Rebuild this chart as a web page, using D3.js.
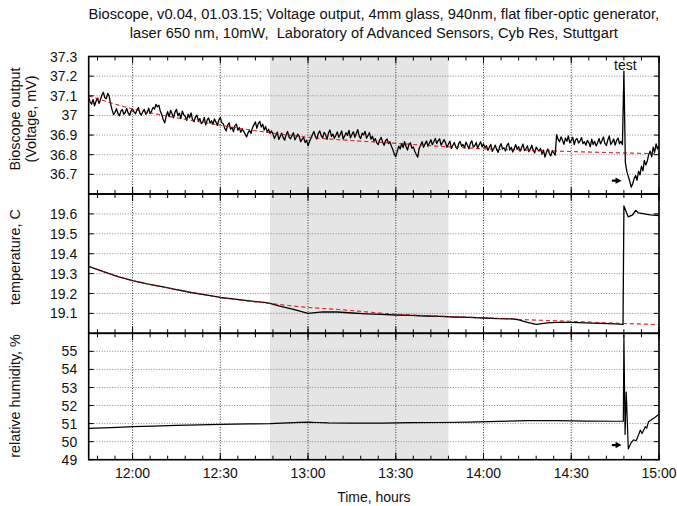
<!DOCTYPE html>
<html>
<head>
<meta charset="utf-8">
<script src="https://cdn.jsdelivr.net/npm/d3@7"></script>
<style>
  html, body { margin: 0; padding: 0; background: #fff; }
  svg { display: block; font-family: "Liberation Sans", Arial, Helvetica, sans-serif; }
  text { white-space: pre; }
</style>
</head>
<body>
<svg id="chart" width="677" height="506"></svg>
<script>
// ---- recording: 01.03.2015, minutes counted from 11:45 ----
const titleLines = [
  "Bioscope, v0.04, 01.03.15; Voltage output, 4mm glass, 940nm, flat fiber-optic generator,",
  "laser 650 nm, 10mW,  Laboratory of Advanced Sensors, Cyb Res, Stuttgart"
];
const timeStart = [2015, 2, 1, 11, 45];   // Y, M(0-based), D, h, m
const timeSpanMin = 195;                    // 11:45 .. 15:00
const shadedMin = [62, 123];                // 12:47 .. 13:48

// bioscope output, one sample every half minute from 11:45 (mV)
const voltStepMin = 0.5;
const voltage = [
  37.092,37.068,37.058,37.081,37.049,37.072,37.088,37.061,
  37.079,37.104,37.118,37.090,37.085,37.112,37.098,37.058,
  37.028,37.004,37.016,37.034,37.010,36.998,37.022,37.030,37.006,37.015,37.036,37.012,37.001,37.024,
  37.033,37.018,37.008,37.028,37.040,37.011,37.002,37.019,37.031,37.006,37.015,37.037,37.009,37.022,
  37.041,37.033,37.056,37.044,37.052,37.021,
  37.004,36.978,36.962,36.997,
  37.019,36.993,37.026,37.008,36.988,37.016,37.031,36.999,37.012,36.984,37.022,37.003,
  36.996,36.975,37.006,36.988,37.013,36.979,36.968,36.992,37.001,36.972,
  36.984,36.958,36.965,36.990,36.952,36.976,36.987,36.961,36.973,36.955,36.982,36.966,36.949,36.977,36.989,36.963,
  36.958,36.934,36.921,36.950,36.962,36.930,36.939,36.917,36.948,36.956,36.925,36.938,36.914,36.930,
  36.919,36.905,36.891,36.912,36.924,36.908,
  36.938,36.952,36.967,36.934,36.958,36.970,36.941,36.955,36.926,36.944,
  36.915,36.930,36.908,36.921,
  36.906,36.882,36.899,36.915,36.878,36.893,36.910,36.887,36.874,36.902,36.918,36.890,36.881,36.897,36.912,36.876,36.889,36.905,
  36.892,36.866,36.879,36.888,36.862,36.874,36.846,36.868,
  36.884,36.903,36.918,36.893,36.880,36.909,36.921,36.897,36.886,36.914,36.902,36.878,36.911,36.926,36.893,36.905,
  36.884,36.899,36.916,36.888,36.903,36.921,36.880,36.895,36.912,36.898,36.924,36.886,36.903,36.917,36.889,36.908,
  36.928,36.895,36.882,36.910,36.901,36.919,36.884,36.898,36.913,36.879,36.894,36.870,
  36.882,36.861,36.852,36.876,36.888,36.865,36.848,36.871,36.880,36.857,36.866,36.843,
  36.826,36.803,36.790,36.817,
  36.844,36.829,36.858,36.836,36.866,36.842,36.824,36.853,36.861,36.833,36.840,36.818,
  36.801,36.787,
  36.832,36.849,36.866,36.838,36.855,36.870,36.843,36.860,
  36.876,36.851,36.866,36.883,36.857,36.872,36.880,36.849,36.862,36.877,
  36.861,36.838,36.853,36.869,36.832,36.847,36.862,36.841,36.829,36.856,36.868,36.843,36.852,36.835,
  36.864,36.848,36.830,36.858,36.871,36.839,36.846,36.862,36.833,36.851,36.866,36.840,36.855,36.836,
  36.846,36.822,36.838,36.853,36.817,36.831,36.849,36.826,36.812,36.840,36.856,36.829,36.835,36.819,36.847,36.858,36.824,36.838,
  36.814,36.832,36.851,36.827,36.841,36.818,36.836,36.854,36.821,36.830,36.845,36.816,36.828,36.848,36.823,36.809,36.839,36.826,
  36.818,36.832,36.803,36.824,36.788,36.812,36.829,36.806,36.794,36.821,36.809,36.798,
  36.902,36.878,36.866,36.891,36.874,36.853,36.885,36.868,36.896,36.860,36.872,36.889,36.851,36.876,36.882,36.859,36.870,36.887,36.856,36.866,
  36.848,36.873,36.862,36.840,36.879,36.852,36.868,36.845,36.860,36.883,36.855,36.871,36.890,
  36.858,36.847,36.875,36.896,36.852,36.864,36.880,36.849,36.872,36.885,36.856,36.868,36.851,
  37.225,36.760,36.715,36.690,36.665,36.635,36.652,36.678,36.694,36.670,36.716,36.697,
  36.742,36.718,36.771,36.748,36.768,36.803,36.818,36.789,36.838,36.812,36.855,36.829,
  36.845
];
// fitted drift of the output, [minute, mV]
const voltageTrend = [
  [0,37.100],[15,37.033],[30,36.988],[45,36.950],[62,36.912],[75,36.889],
  [90,36.872],[105,36.858],[120,36.843],[135,36.830],[150,36.823],
  [165,36.816],[180,36.810],[195,36.805]
];

// temperature, [minute, °C]
const temperature = [
  [0,19.336],[5,19.310],[10,19.285],[15,19.265],[20,19.248],[25,19.235],
  [30,19.220],[35,19.205],[40,19.193],[45,19.180],[50,19.172],[55,19.163],
  [60,19.155],[62,19.150],[65,19.138],[70,19.120],[75,19.100],[80,19.108],
  [85,19.107],[90,19.102],[95,19.098],[100,19.095],[105,19.092],[110,19.090],
  [115,19.087],[120,19.085],[125,19.082],[130,19.080],[135,19.077],[140,19.074],
  [145,19.072],[147,19.068],[150,19.055],[153,19.045],[157,19.052],[160,19.055],
  [165,19.055],[170,19.052],[175,19.050],[180,19.047],[182.7,19.045],
  [183,19.640],[184.5,19.585],[186,19.595],[187,19.618],[188,19.605],
  [190,19.600],[192,19.595],[195,19.592]
];
const temperatureTrend = [
  [0,19.336],[15,19.265],[30,19.220],[45,19.180],[62,19.150],[75,19.130],
  [85,19.120],[105,19.096],[120,19.086],[135,19.078],[150,19.068],
  [165,19.060],[180,19.051],[195,19.044]
];

// relative humidity, [minute, %]
const humidity = [
  [0,50.74],[5,50.76],[10,50.79],[15,50.83],[22,50.86],[30,50.90],[38,50.93],
  [45,50.96],[55,50.98],[62,51.00],[68,51.04],[72,51.07],[75,51.08],[78,51.06],
  [82,51.04],[90,51.03],[100,51.03],[110,51.05],[120,51.06],[130,51.08],
  [140,51.12],[150,51.16],[155,51.17],[160,51.16],[170,51.14],[180,51.13],
  [182.8,51.13],[183,55.9],[183.4,50.4],[183.8,52.75],[184.5,49.6],[185.5,49.95],
  [186.3,50.10],[187.2,50.05],[188,50.37],[188.6,50.64],[189.2,50.45],[190.3,50.83],
  [190.8,50.75],[191.4,51.10],[192.3,51.20],[193.2,51.29],[194.2,51.42],[195,51.51]
];

// axis ticks
const voltTicks = [36.7, 36.8, 36.9, 37.0, 37.1, 37.2, 37.3];
const tempTicks = [19.1, 19.2, 19.3, 19.4, 19.5, 19.6];
const humTicks  = [49, 50, 51, 52, 53, 54, 55];
const majorTickMin = 30, minorTickMin = 6;

// annotations
const testLabel = { min: 183.5, value: 37.255, text: "test" };
const voltArrow = { from: 178.9, to: 182.2, value: 36.668 };
const humArrow  = { from: 178.9, to: 182.2, value: 49.81 };

// ---- layout ----
const svg = d3.select("#chart");
const left = 88.7, right = 659;
const panels = [
  { key: "volt", top: 56.5, bottom: 194,   domain: [36.6, 37.3], ticks: voltTicks,
    labels: ["Bioscope output", "(Voltage, mV)"], labelX: [15, 31], labelY: 119 },
  { key: "temp", top: 194,  bottom: 333.3, domain: [19.0, 19.7], ticks: tempTicks,
    labels: ["temperature, C"], labelX: [15], labelY: 257 },
  { key: "hum",  top: 333.3, bottom: 459.7, domain: [49, 56],   ticks: humTicks,
    labels: ["relative humidity, %"], labelX: [15], labelY: 396 }
];

const t0 = new Date(timeStart[0], timeStart[1], timeStart[2], timeStart[3], timeStart[4]);
const at = m => new Date(t0.getTime() + m * 60000);
const x = d3.scaleTime().domain([at(0), at(timeSpanMin)]).range([left, right]);

panels.forEach(p => {
  p.y = d3.scaleLinear().domain(p.domain).range([p.bottom, p.top]);
});

// title
svg.append("g").selectAll("text").data(titleLines).join("text")
  .attr("x", (left + right) / 2)
  .attr("y", (d, i) => 19 + i * 19)
  .attr("text-anchor", "middle")
  .attr("font-size", 14.7)
  .attr("fill", "#111")
  .text(d => d);

// shaded interval across all three panels
svg.append("rect")
  .attr("x", x(at(shadedMin[0])))
  .attr("y", panels[0].top)
  .attr("width", x(at(shadedMin[1])) - x(at(shadedMin[0])))
  .attr("height", panels[2].bottom - panels[0].top)
  .attr("fill", "#e5e5e5");

const majorTimes = d3.range(15, timeSpanMin + 0.1, majorTickMin).map(at);
const minorTimes = d3.range(3, timeSpanMin + 0.1, minorTickMin).map(at);

svg.append("defs").selectAll("clipPath").data(panels).join("clipPath")
  .attr("id", p => "clip-" + p.key)
  .append("rect")
  .attr("x", left).attr("y", p => p.top)
  .attr("width", right - left).attr("height", p => p.bottom - p.top);

panels.forEach(p => {
  const g = svg.append("g");
  // horizontal grid
  g.selectAll(".hg").data(p.ticks).join("line")
    .attr("x1", left).attr("x2", right)
    .attr("y1", d => p.y(d)).attr("y2", d => p.y(d))
    .attr("stroke", "#8a8a8a").attr("stroke-width", 1)
    .attr("stroke-dasharray", "1,1.6");
  // vertical grid at half hours
  g.selectAll(".vg").data(majorTimes).join("line")
    .attr("x1", d => x(d)).attr("x2", d => x(d))
    .attr("y1", p.top).attr("y2", p.bottom)
    .attr("stroke", "#333").attr("stroke-width", 1)
    .attr("stroke-dasharray", "1,1.6");
});

const line = y => d3.line().x(d => x(at(d[0]))).y(d => y(d[1]));
const voltPts = voltage.map((v, i) => [i * voltStepMin, v]);

const traces = [
  { panel: panels[0], data: voltageTrend, color: "#e8262a", width: 1, dash: "4,3", curve: true },
  { panel: panels[0], data: voltPts, color: "#000", width: 1.3, dash: null },
  { panel: panels[1], data: temperatureTrend, color: "#e8262a", width: 1, dash: "4,3", curve: true },
  { panel: panels[1], data: temperature, color: "#000", width: 1.3, dash: null },
  { panel: panels[2], data: humidity, color: "#000", width: 1.2, dash: null }
];
traces.forEach(tr => {
  const gen = line(tr.panel.y);
  if (tr.curve) gen.curve(d3.curveMonotoneX);
  svg.append("path")
    .attr("clip-path", `url(#clip-${tr.panel.key})`)
    .attr("d", gen(tr.data))
    .attr("fill", "none")
    .attr("stroke", tr.color)
    .attr("stroke-width", tr.width)
    .attr("stroke-linejoin", "round")
    .attr("stroke-dasharray", tr.dash);
});
// red trends drawn again, faintly, over the measured curves
[[panels[0], voltageTrend], [panels[1], temperatureTrend]].forEach(([p, d]) => {
  svg.append("path")
    .attr("clip-path", `url(#clip-${p.key})`)
    .attr("d", line(p.y).curve(d3.curveMonotoneX)(d))
    .attr("fill", "none").attr("stroke", "#e8262a").attr("stroke-opacity", 0.55)
    .attr("stroke-width", 1).attr("stroke-dasharray", "4,3");
});

// frames, ticks, tick labels
panels.forEach(p => {
  const g = svg.append("g");
  g.append("rect")
    .attr("x", left).attr("y", p.top)
    .attr("width", right - left).attr("height", p.bottom - p.top)
    .attr("fill", "none").attr("stroke", "#000").attr("stroke-width", 1.6);
  const tick = (times, len) => {
    g.append("g").selectAll("line").data(times).join("line")
      .attr("x1", d => x(d)).attr("x2", d => x(d))
      .attr("y1", p.bottom).attr("y2", p.bottom - len)
      .attr("stroke", "#000").attr("stroke-width", 1);
    g.append("g").selectAll("line").data(times).join("line")
      .attr("x1", d => x(d)).attr("x2", d => x(d))
      .attr("y1", p.top).attr("y2", p.top + len)
      .attr("stroke", "#000").attr("stroke-width", 1);
  };
  tick(minorTimes, 4);
  tick(majorTimes, 7);
  g.append("g").selectAll("line").data(p.ticks).join("line")
    .attr("x1", left).attr("x2", left + 5)
    .attr("y1", d => p.y(d)).attr("y2", d => p.y(d))
    .attr("stroke", "#000").attr("stroke-width", 1);
  g.append("g").selectAll("line").data(p.ticks).join("line")
    .attr("x1", right - 5).attr("x2", right)
    .attr("y1", d => p.y(d)).attr("y2", d => p.y(d))
    .attr("stroke", "#000").attr("stroke-width", 1);
  g.append("g").selectAll("text").data(p.ticks).join("text")
    .attr("x", left - 11.5)
    .attr("y", d => p.y(d))
    .attr("dy", "0.36em")
    .attr("text-anchor", "end")
    .attr("font-size", 14)
    .attr("fill", "#111")
    .text(d => String(+d.toFixed(1)));
  // rotated axis titles
  p.labels.forEach((lab, i) => {
    g.append("text")
      .attr("transform", `translate(${p.labelX[i]},${p.labelY}) rotate(-90)`)
      .attr("text-anchor", "middle")
      .attr("dominant-baseline", "central")
      .attr("font-size", 14.4)
      .attr("fill", "#111")
      .text(lab);
  });
});

// time axis labels
svg.append("g").selectAll("text").data(majorTimes).join("text")
  .attr("x", d => x(d))
  .attr("y", 478)
  .attr("text-anchor", "middle")
  .attr("font-size", 14)
  .attr("fill", "#111")
  .text(d3.timeFormat("%H:%M"));
svg.append("text")
  .attr("x", (left + right) / 2)
  .attr("y", 502)
  .attr("text-anchor", "middle")
  .attr("font-size", 14)
  .attr("fill", "#111")
  .text("Time, hours");

// "test" marker
svg.append("text")
  .attr("x", x(at(testLabel.min)))
  .attr("y", panels[0].y(testLabel.value))
  .attr("dy", "0.36em")
  .attr("text-anchor", "middle")
  .attr("font-size", 14)
  .attr("fill", "#111")
  .text(testLabel.text);

// small arrows pointing at the test moment
[[panels[0], voltArrow], [panels[2], humArrow]].forEach(([p, a]) => {
  const x1 = x(at(a.from)), x2 = x(at(a.to)), yy = p.y(a.value);
  svg.append("line")
    .attr("x1", x1).attr("x2", x2 - 4)
    .attr("y1", yy).attr("y2", yy)
    .attr("stroke", "#000").attr("stroke-width", 2.2);
  svg.append("path")
    .attr("d", `M${x2},${yy} L${x2 - 6},${yy - 3.2} L${x2 - 6},${yy + 3.2} Z`)
    .attr("fill", "#000");
});
</script>
</body>
</html>
